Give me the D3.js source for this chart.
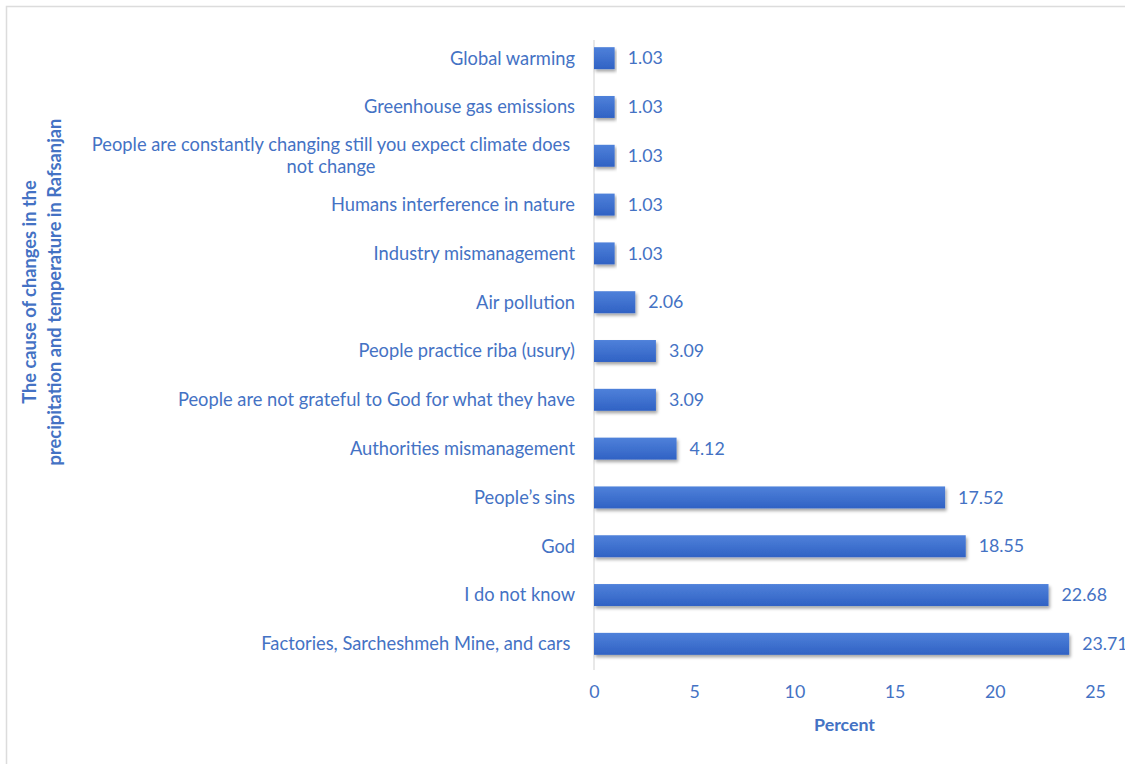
<!DOCTYPE html>
<html><head><meta charset="utf-8">
<script src="https://cdn.jsdelivr.net/npm/d3@7"></script>
<style>body{margin:0;background:#fff}svg{display:block;font-family:Lato,"Open Sans",sans-serif}</style>
</head><body>
<script>
const categories = [
  "Global warming",
  "Greenhouse gas emissions",
  "People are constantly changing still you expect climate does|not change",
  "Humans interference in nature",
  "Industry mismanagement",
  "Air pollution",
  "People practice riba (usury)",
  "People are not grateful to God for what they have",
  "Authorities mismanagement",
  "People\u2019s sins",
  "God",
  "I do not know",
  "Factories, Sarcheshmeh Mine, and cars "
];
const values = [1.03,1.03,1.03,1.03,1.03,2.06,3.09,3.09,4.12,17.52,18.55,22.68,23.71];
const xTicks = [0,5,10,15,20,25];
const xTitle = "Percent";
const yTitle = ["The cause of changes in the","precipitation and temperature in Rafsanjan"];

const W=1125,H=764;
const textColor="#4472c4";
const FS=18.3;
const svg=d3.select("body").append("svg").attr("width",W).attr("height",H);
svg.append("rect").attr("x",6.5).attr("y",6.5).attr("width",W+10).attr("height",H+10)
  .attr("fill","#fff").attr("stroke","#dcdcdc").attr("stroke-width",1.5);

const defs=svg.append("defs");
const g=defs.append("linearGradient").attr("id","bg").attr("x1",0).attr("y1",0).attr("x2",0).attr("y2",1);
g.append("stop").attr("offset","0%").attr("stop-color","#4f81da");
g.append("stop").attr("offset","100%").attr("stop-color","#3062c4");
const f=defs.append("filter").attr("id","sh").attr("x","-5%").attr("y","-30%").attr("width","115%").attr("height","180%");
f.append("feDropShadow").attr("dx",1.5).attr("dy",2.5).attr("stdDeviation",1.8).attr("flood-color","#000").attr("flood-opacity",0.35);

const x=d3.scaleLinear().domain([0,25]).range([594,1095]);
const y=d3.scaleBand().domain(categories).range([34,668]).paddingInner(0.55).paddingOuter(0.27);

svg.append("line").attr("x1",x(0)).attr("x2",x(0)).attr("y1",40).attr("y2",670)
  .attr("stroke","#d9d9d9").attr("stroke-width",1.2);

svg.append("g").selectAll("rect").data(values).join("rect")
  .attr("x",x(0)).attr("y",(d,i)=>y(categories[i])).attr("width",d=>x(d)-x(0))
  .attr("height",y.bandwidth()).attr("fill","url(#bg)").attr("filter","url(#sh)");

svg.append("g").selectAll("text").data(values).join("text")
  .attr("x",d=>x(d)+13).attr("y",(d,i)=>y(categories[i])+y.bandwidth()/2)
  .attr("dy","0.35em").attr("fill",textColor).attr("font-size",FS-0.5)
  .text(d=>d.toFixed(2));

const cl=svg.append("g").selectAll("text").data(categories).join("text")
  .attr("x",575).attr("y",d=>y(d)+y.bandwidth()/2)
  .attr("fill",textColor).attr("font-size",FS).attr("text-anchor","end")
  .style("white-space","pre");
cl.each(function(d){
  const parts=d.split("|");
  const t=d3.select(this);
  if(parts.length===1){t.append("tspan").attr("dy","0.35em").text(d);}
  else{
    t.attr("text-anchor","middle");
    parts.forEach((p,i)=>t.append("tspan").attr("x",331).attr("dy",i===0?"-0.25em":"1.2em").text(p));
  }
});

const xa=d3.axisBottom(x).tickValues(xTicks).tickSize(0).tickPadding(0).tickFormat(d3.format("d"));
const ax=svg.append("g").attr("transform","translate(0,686)").call(xa);
ax.select(".domain").remove();
ax.selectAll("text").attr("fill",textColor).attr("font-size",FS-0.5).attr("font-family","Lato,'Open Sans',sans-serif").attr("dy","0.7em");

svg.append("text").attr("x",(x(0)+x(25))/2).attr("y",731).attr("text-anchor","middle")
  .attr("fill",textColor).attr("font-weight","bold").attr("font-size",FS-0.5).text(xTitle);

const yt=svg.append("text").attr("transform","translate(36,292) rotate(-90)")
  .attr("text-anchor","middle").attr("fill",textColor).attr("font-weight","bold").attr("font-size",FS);
yTitle.forEach((l,i)=>yt.append("tspan").attr("x",0).attr("dy",i===0?0:"1.35em").text(l));
</script>
</body></html>
